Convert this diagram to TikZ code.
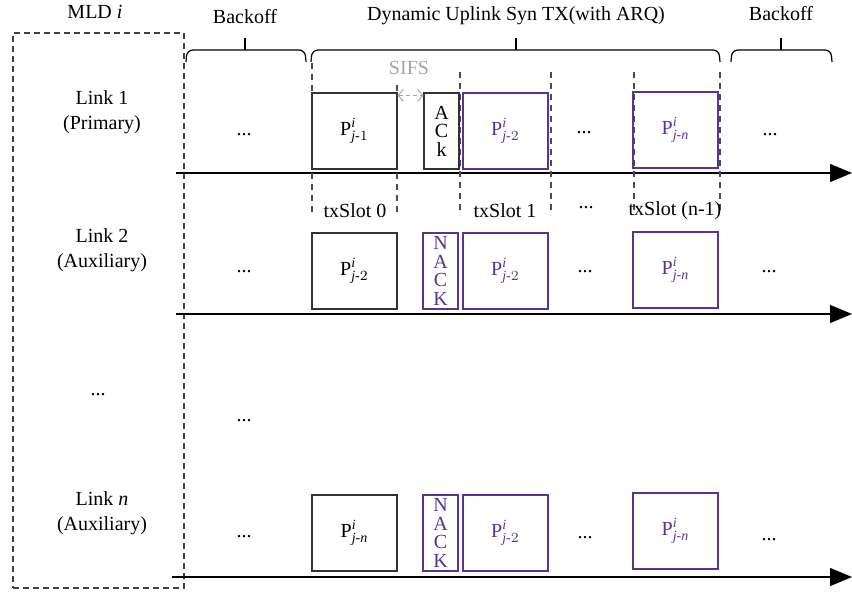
\documentclass[tikz,border=0pt]{standalone}
\usepackage{amsmath}
\usepackage{fontspec}
\setmainfont{Liberation Serif}
\usetikzlibrary{arrows.meta}
\definecolor{pktpurple}{RGB}{88,52,148}
\definecolor{sifsgray}{RGB}{165,165,165}
\newcommand{\pktlbl}[1]{$\text{P}^{\textit{i}}_{\textit{j}\text{-}#1}$}
\tikzset{
    >={Triangle[length=11pt,width=9pt]},
    every node/.style={font=\fontsize{10}{12.5}\selectfont},
    pkt/.style={draw=black!80, line width=0.6pt, minimum width=42.5pt,
        minimum height=38pt, inner sep=0pt},
    rtx/.style={pkt, draw=pktpurple, text=pktpurple},
    ackbox/.style={pkt, minimum width=17.5pt, align=center,
        font=\fontsize{10}{9.2}\selectfont},
    slotline/.style={black!70, line width=0.6pt, dash pattern=on 3pt off 2.5pt},
    brace/.style={line width=0.6pt, rounded corners=3pt},
    axis/.style={->, line width=0.6pt},
}

\begin{document}
\begin{tikzpicture}[x=0.5pt, y=-0.5pt]
    \useasboundingbox (0,0) rectangle (852,595);

    % MLD box and link names
    \node[draw=black!75, line width=0.6pt, dash pattern=on 3pt off 2pt,
        minimum width=85.5pt, minimum height=277.5pt, inner sep=0pt] (mld) at (98.5,310.5) {};
    \node (mldlbl) at (95,12) {MLD \textit{i}};
    \node[align=center] (lk1) at (102,112) {Link 1\\(Primary)};
    \node[align=center] (lk2) at (102,250) {Link 2\\(Auxiliary)};
    \node (lkdots) at (98,395) {...};
    \node[align=center] (lkn) at (102,513) {Link \textit{n}\\(Auxiliary)};

    % phases
    \node (bo1lbl) at (245,17) {Backoff};
    \node (dynlbl) at (516,16) {Dynamic Uplink Syn TX(with ARQ)};
    \node (bo2lbl) at (781,14) {Backoff};
    \foreach \xa/\xm/\xb in {186/245/306, 311/516/720, 731/781/832} {
        \draw[brace] (\xa,62) -- (\xa+1,50) -- (\xb-1,50) -- (\xb,62);
        \draw[line width=0.6pt] (\xm,50) -- (\xm,38);
    }

    % time axes
    \foreach \r/\y/\xs in {1/173/176, 2/314/176, n/577/172} {
        \coordinate (ax\r s) at (\xs,\y);
        \coordinate (ax\r e) at (852,\y);
        \draw[axis] (ax\r s) -- (ax\r e);
    }

    % slot boundaries
    \foreach \x/\t in {312/63, 397/85, 460/72, 551/72, 634/72, 720/72}
        \draw[slotline] (\x,\t) -- (\x,215);

    % link 1
    \node (bo1) at (244,135) {...};
    \node[pkt] (p1a) at (354.5,131) {\pktlbl{1}};
    \node[ackbox] (ack1) at (441.5,131) {A\\C\\k};
    \node[rtx] (p1b) at (505.5,131) {\pktlbl{2}};
    \node (d1a) at (584,133) {...};
    \node[rtx] (p1c) at (675.5,130) {\pktlbl{\textit{n}}};
    \node (d1b) at (770,135) {...};

    % SIFS
    \node[text=sifsgray] (sifs) at (409,68) {SIFS};
    \draw[sifsgray, line width=0.5pt, dash pattern=on 2pt off 1.5pt,
        {Straight Barb[length=2.5pt,width=6pt]}-{Straight Barb[length=2.5pt,width=6pt]}]
        ([yshift=-1.5pt]p1a.north east) -- ([yshift=-1.5pt]ack1.north west);

    % slot names
    \node (ts0) at (355,211) {txSlot 0};
    \node (ts1) at (505,211) {txSlot 1};
    \node (tsdots) at (586,208) {...};
    \node (tsn) at (675,211) {txSlot (n-1)};

    % link 2
    \node (bo2) at (244,272) {...};
    \node[pkt] (p2a) at (354.5,271) {\pktlbl{2}};
    \node[ackbox, draw=pktpurple, text=pktpurple] (nack2) at (440.5,271) {N\\A\\C\\K};
    \node[rtx] (p2b) at (505.5,271) {\pktlbl{2}};
    \node (d2a) at (585,272) {...};
    \node[rtx] (p2c) at (675.5,270) {\pktlbl{\textit{n}}};
    \node (d2b) at (769,272) {...};

    % between
    \node (bo3) at (244,421) {...};

    % link n
    \node (bon) at (244,537) {...};
    \node[pkt] (pna) at (354.5,533) {\pktlbl{\textit{n}}};
    \node[ackbox, draw=pktpurple, text=pktpurple] (nackn) at (440.5,533) {N\\A\\C\\K};
    \node[rtx] (pnb) at (505.5,533) {\pktlbl{2}};
    \node (dna) at (585,538) {...};
    \node[rtx] (pnc) at (675.5,531) {\pktlbl{\textit{n}}};
    \node (dnb) at (769,540) {...};
\end{tikzpicture}
\end{document}
